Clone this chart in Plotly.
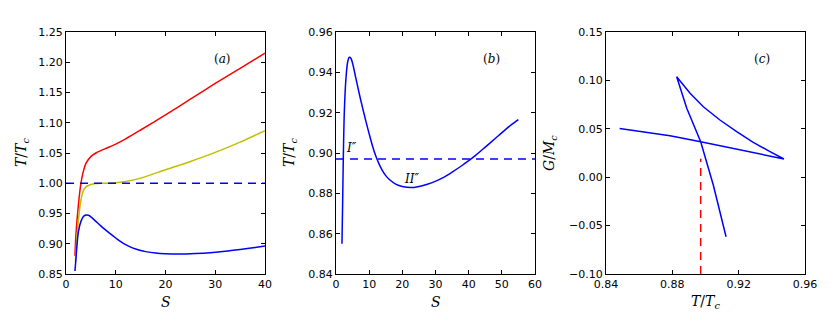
import plotly.graph_objects as go
from plotly.subplots import make_subplots

# panel (a)/(b): blue branch T/Tc versus S
s_blue = [1.8, 2.0, 2.2, 2.5, 3.0, 3.5, 4.0, 4.5, 5.0, 6.0, 7.0, 8.0, 9.0, 10, 11, 12,
          13, 14, 15, 16, 18, 20, 23, 26, 29, 32, 35, 38, 40, 42, 45, 48, 51, 53, 55]
t_blue = [0.855, 0.875, 0.897, 0.920, 0.937, 0.945, 0.9475, 0.947, 0.9445, 0.937, 0.9295,
          0.9225, 0.9158, 0.9095, 0.9035, 0.8985, 0.8945, 0.8913, 0.8888, 0.8870, 0.8846,
          0.8834, 0.8829, 0.8838, 0.8853, 0.8875, 0.8905, 0.8938, 0.8962, 0.8987, 0.9029,
          0.9072, 0.9115, 0.9142, 0.9166]

# panel (a): red and yellow branches
s_red = [1.8, 2.0, 2.5, 3.0, 3.5, 4.0, 5.0, 6.0, 7.0, 8.0, 9.0, 10, 12, 15, 20, 25, 30, 35, 40]
t_red = [0.88, 0.915, 0.965, 1.0, 1.02, 1.033, 1.044, 1.050, 1.054, 1.0575, 1.061, 1.0648,
         1.0735, 1.088, 1.113, 1.139, 1.165, 1.19, 1.215]
s_yel = [1.9, 2.0, 2.5, 3.0, 3.5, 4.0, 5.0, 6.0, 7.0, 8.0, 10, 12, 15, 20, 25, 30, 35, 40]
t_yel = [0.87, 0.885, 0.939, 0.972, 0.988, 0.994, 0.998, 0.9995, 1.0, 1.0, 1.0007,
         1.003, 1.0085, 1.0223, 1.036, 1.051, 1.068, 1.087]

t_crit_a = 1.00
t_crit_b = 0.897

# panel (c): G/Mc versus T/Tc (swallowtail)
t_c = [0.8482, 0.8786, 0.8971, 0.9473, 0.9389, 0.9288, 0.9188, 0.9087, 0.8987, 0.8907,
       0.8826, 0.8887, 0.8971, 0.9047, 0.9124]
g_c = [0.0503, 0.0429, 0.0367, 0.0188, 0.0264, 0.0360, 0.0470, 0.0591, 0.0728, 0.0867,
       0.1038, 0.0712, 0.0367, -0.0081, -0.0615]
t_trans = 0.8971
g_trans = [-0.10, 0.019]

BLUE = '#0000ff'
RED = '#ff0000'
YEL = '#bfbf00'
DASH = '8px,6px'

W, H = 830, 323
ML, MR, MT, MB = 50, 15, 20, 40
PW, PH = W - ML - MR, H - MT - MB
OFF = 8  # page body margin shifts the figure by this much


def px_x(px):
    return (px - OFF - ML) / PW


def px_y(py):
    return (H - MB - (py - OFF)) / PH


fig = make_subplots(rows=1, cols=3)

smooth = dict(width=1.5, shape='spline', smoothing=0.8)
fig.add_trace(go.Scatter(x=s_red, y=t_red, mode='lines', line=dict(color=RED, **smooth)), 1, 1)
fig.add_trace(go.Scatter(x=s_yel, y=t_yel, mode='lines', line=dict(color=YEL, **smooth)), 1, 1)
fig.add_trace(go.Scatter(x=[s for s in s_blue if s <= 40], y=[t for s, t in zip(s_blue, t_blue) if s <= 40],
                         mode='lines', line=dict(color=BLUE, **smooth)), 1, 1)
fig.add_trace(go.Scatter(x=[0, 40], y=[t_crit_a, t_crit_a], mode='lines',
                         line=dict(color=BLUE, width=1.5, dash=DASH)), 1, 1)

fig.add_trace(go.Scatter(x=s_blue, y=t_blue, mode='lines', line=dict(color=BLUE, **smooth)), 1, 2)
fig.add_trace(go.Scatter(x=[0, 60], y=[t_crit_b, t_crit_b], mode='lines',
                         line=dict(color=BLUE, width=1.5, dash=DASH)), 1, 2)

fig.add_trace(go.Scatter(x=t_c, y=g_c, mode='lines', line=dict(color=BLUE, width=1.5)), 1, 3)
fig.add_trace(go.Scatter(x=[t_trans, t_trans], y=g_trans, mode='lines',
                         line=dict(color=RED, width=1.5, dash=DASH)), 1, 3)

ydom = [px_y(274), px_y(32)]
xdoms = [[px_x(66), px_x(265)], [px_x(336), px_x(535)], [px_x(606), px_x(805)]]

axis_common = dict(showline=True, linecolor='black', linewidth=1, mirror='ticks',
                   ticks='inside', ticklen=4, tickcolor='black', showgrid=False,
                   zeroline=False, automargin=False,
                   tickfont=dict(family='DejaVu Sans', size=11, color='black'))

xranges = [[0, 40], [0, 60], [0.84, 0.96]]
xticks = [[0, 10, 20, 30, 40], [0, 10, 20, 30, 40, 50, 60], [0.84, 0.88, 0.92, 0.96]]
xfmt = ['d', 'd', '.2f']
yranges = [[0.85, 1.25], [0.84, 0.96], [-0.10, 0.15]]
ydtick = [0.05, 0.02, 0.05]

for i in range(3):
    sfx = '' if i == 0 else str(i + 1)
    fig.update_layout(**{
        'xaxis' + sfx: dict(domain=xdoms[i], range=xranges[i], tickvals=xticks[i],
                            tickformat=xfmt[i], **axis_common),
        'yaxis' + sfx: dict(domain=ydom, range=yranges[i], tick0=yranges[i][0], dtick=ydtick[i],
                            tickformat='.2f', **axis_common),
    })

serif = dict(family='DejaVu Serif', size=14, color='black')
label = dict(family='DejaVu Serif', size=12, color='black')
TT = '<i>T</i>/<i>T</i><sub><i>c</i></sub>'
annots = []
for x_px, txt in [(22, TT), (290, TT), (550, '<i>G</i>/<i>M</i><sub><i>c</i></sub>')]:
    annots.append(dict(x=px_x(x_px), y=px_y(153), xref='paper', yref='paper', text=txt,
                       textangle=-90, showarrow=False, font=serif,
                       xanchor='center', yanchor='middle'))
for x_px, txt in [(165.5, '<i>S</i>'), (435.5, '<i>S</i>'), (705.5, TT)]:
    annots.append(dict(x=px_x(x_px), y=px_y(302), xref='paper', yref='paper', text=txt,
                       showarrow=False, font=serif, xanchor='center', yanchor='middle'))

annots += [
    dict(x=31.5, y=1.205, xref='x', yref='y', text='(<i>a</i>)', showarrow=False, font=label),
    dict(x=47, y=0.9466, xref='x2', yref='y2', text='(<i>b</i>)', showarrow=False, font=label),
    dict(x=0.934, y=0.122, xref='x3', yref='y3', text='(<i>c</i>)', showarrow=False, font=label),
    dict(x=4.7, y=0.9025, xref='x2', yref='y2', text='<i>I″</i>', showarrow=False, font=label),
    dict(x=22.8, y=0.887, xref='x2', yref='y2', text='<i>II″</i>', showarrow=False, font=label),
]

fig.update_layout(
    width=W, height=H,
    margin=dict(l=ML, r=MR, t=MT, b=MB),
    showlegend=False,
    plot_bgcolor='white',
    paper_bgcolor='white',
    annotations=annots,
)

fig.write_html("out.html")
